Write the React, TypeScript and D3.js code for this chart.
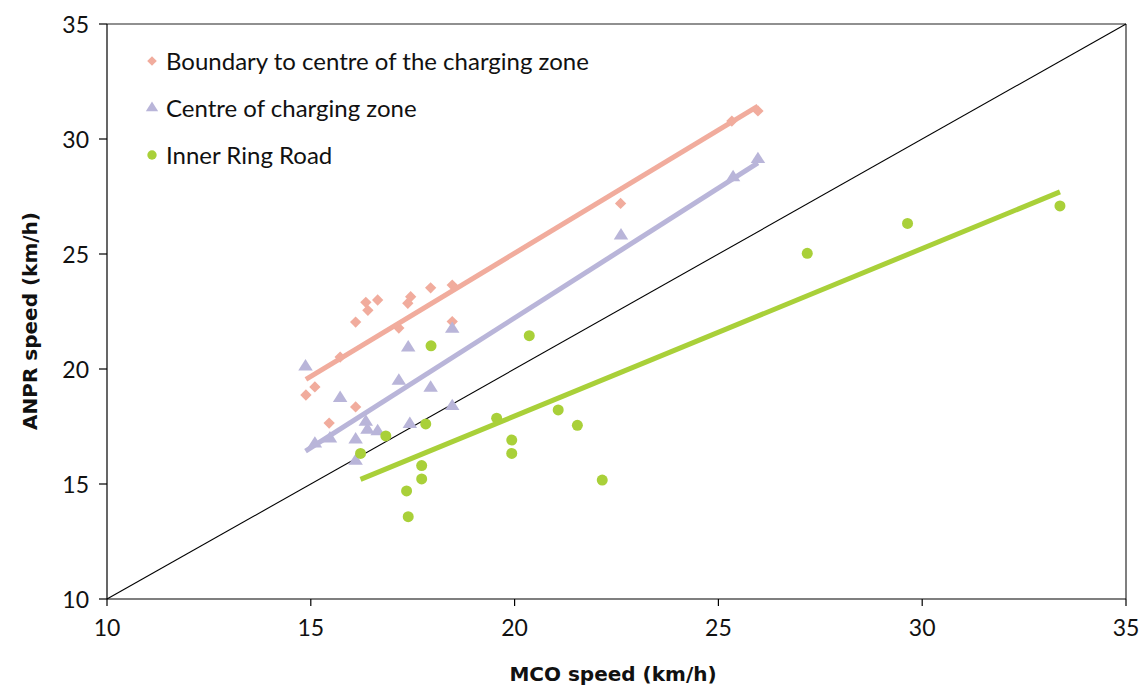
import React from "react";
import * as d3 from "d3";

const boundaryX = [14.88, 15.1, 15.72, 15.45, 16.1, 16.1, 16.35, 16.4, 16.64, 17.16, 17.38, 17.45, 17.94, 18.47, 18.47, 22.6, 25.33, 25.97];
const boundaryY = [18.87, 19.22, 20.52, 17.65, 18.35, 22.04, 22.9, 22.55, 23.0, 21.78, 22.86, 23.14, 23.53, 23.65, 22.06, 27.2, 30.78, 31.22];

const centreX = [14.87, 15.72, 17.39, 17.16, 17.94, 18.47, 18.47, 17.43, 16.35, 16.39, 16.64, 16.1, 16.1, 15.47, 15.1, 22.61, 25.36, 25.97];
const centreY = [20.1, 18.73, 20.93, 19.48, 19.18, 21.74, 18.38, 17.6, 17.7, 17.35, 17.29, 16.93, 16.0, 16.97, 16.75, 25.8, 28.33, 29.12];

const ringX = [17.95, 17.82, 16.84, 16.22, 17.72, 17.72, 17.35, 17.39, 19.56, 20.36, 21.07, 21.54, 19.93, 19.93, 22.15, 27.18, 29.64, 33.38];
const ringY = [21.01, 17.61, 17.09, 16.33, 15.8, 15.22, 14.7, 13.58, 17.86, 21.45, 18.22, 17.55, 16.91, 16.33, 15.17, 25.03, 26.33, 27.09];

// Trend lines: [x start, x end], [y start, y end]
const boundaryTrendX = [14.88, 25.97];
const boundaryTrendY = [19.55, 31.43];
const centreTrendX = [14.87, 25.97];
const centreTrendY = [16.43, 28.96];
const ringTrendX = [16.22, 33.38];
const ringTrendY = [15.2, 27.7];

const xTicks = [10, 15, 20, 25, 30, 35];
const yTicks = [10, 15, 20, 25, 30, 35];

const legendLabels = ["Boundary to centre of the charging zone", "Centre of charging zone", "Inner Ring Road"];

const PINK = "#f1ac9d";
const LAV = "#b9b5d9";
const GREEN = "#a9d039";

const W = 1146;
const H = 687;
const FONT = "Lato, 'Open Sans', sans-serif";
const TFONT = "'DejaVu Sans', sans-serif";

export default function App() {
  const x = d3.scaleLinear().domain([10, 35]).range([107, 1126]);
  const y = d3.scaleLinear().domain([10, 35]).range([599, 24]);

  const diamond = d3.symbol().type(d3.symbolSquare).size(64)();
  const triangle = d3.symbol().type(d3.symbolTriangle).size(75)();
  const circle = d3.symbol().type(d3.symbolCircle).size(95)();

  const line = d3.line<[number, number]>().x((d) => x(d[0])).y((d) => y(d[1]));

  const pts = (xs: number[], ys: number[]) => xs.map((v, i) => [v, ys[i]] as [number, number]);

  const series = [
    { xs: boundaryX, ys: boundaryY, tx: boundaryTrendX, ty: boundaryTrendY, color: PINK, path: diamond, extra: "rotate(45)", sx: 1, sy: 1 },
    { xs: centreX, ys: centreY, tx: centreTrendX, ty: centreTrendY, color: LAV, path: triangle, extra: "", sx: 1.1, sy: 1 },
    { xs: ringX, ys: ringY, tx: ringTrendX, ty: ringTrendY, color: GREEN, path: circle, extra: "", sx: 1, sy: 1 },
  ];

  return (
    <svg width={W} height={H} style={{ position: "absolute", left: 0, top: 0, background: "#fff" }}>
      {/* frame */}
      <line x1={x(10)} x2={x(35)} y1={y(35)} y2={y(35)} stroke="#222" strokeWidth={1.2} />
      <line x1={x(35)} x2={x(35)} y1={y(35)} y2={y(10)} stroke="#555" strokeWidth={1.5} />
      {/* diagonal */}
      <path d={line([[10, 10], [35, 35]]) || ""} stroke="#000" strokeWidth={1.1} fill="none" />

      {/* points */}
      {series.map((s, si) => (
        <g key={"p" + si}>
          {pts(s.xs, s.ys).map((p, i) => (
            <path key={i} d={s.path || ""} transform={`translate(${x(p[0])},${y(p[1])}) scale(${s.sx},${s.sy}) ${s.extra}`} fill={s.color} />
          ))}
        </g>
      ))}
      {/* trend lines */}
      {series.map((s, si) => (
        <path key={"t" + si} d={line(pts(s.tx, s.ty)) || ""} stroke={s.color} strokeWidth={5} fill="none" />
      ))}

      {/* axes */}
      <line x1={x(10)} x2={x(10)} y1={y(35)} y2={y(10)} stroke="#000" strokeWidth={1.2} />
      <line x1={x(10)} x2={x(35)} y1={y(10)} y2={y(10)} stroke="#000" strokeWidth={1.2} />
      {yTicks.map((t) => (
        <g key={"y" + t}>
          <line x1={x(10) - 8} x2={x(10)} y1={y(t)} y2={y(t)} stroke="#000" strokeWidth={1.2} />
          <text x={89} y={y(t) + 8.5} textAnchor="end" fontFamily={FONT} fontSize={23} fill="#111">{t}</text>
        </g>
      ))}
      {xTicks.map((t) => (
        <g key={"x" + t}>
          <line x1={x(t)} x2={x(t)} y1={y(10)} y2={y(10) + 7} stroke="#000" strokeWidth={1.2} />
          <text x={x(t)} y={636} textAnchor="middle" fontFamily={FONT} fontSize={23} fill="#111">{t}</text>
        </g>
      ))}
      <text x={613} y={681} textAnchor="middle" fontFamily={TFONT} fontSize={20} fontWeight="bold" fill="#111">MCO speed (km/h)</text>
      <text transform={`translate(36.5,321) rotate(-90)`} textAnchor="middle" fontFamily={TFONT} fontSize={20} fontWeight="bold" fill="#111">ANPR speed (km/h)</text>

      {/* legend */}
      {legendLabels.map((l, i) => {
        const s = series[i];
        const ly = 61 + i * 47;
        return (
          <g key={"l" + i}>
            <path d={s.path || ""} transform={`translate(152,${ly}) scale(${0.85 * s.sx},${0.85 * s.sy}) ${s.extra}`} fill={s.color} />
            <text x={166} y={ly + 8.5} fontFamily={FONT} fontSize={24} fill="#111">{l}</text>
          </g>
        );
      })}
    </svg>
  );
}
